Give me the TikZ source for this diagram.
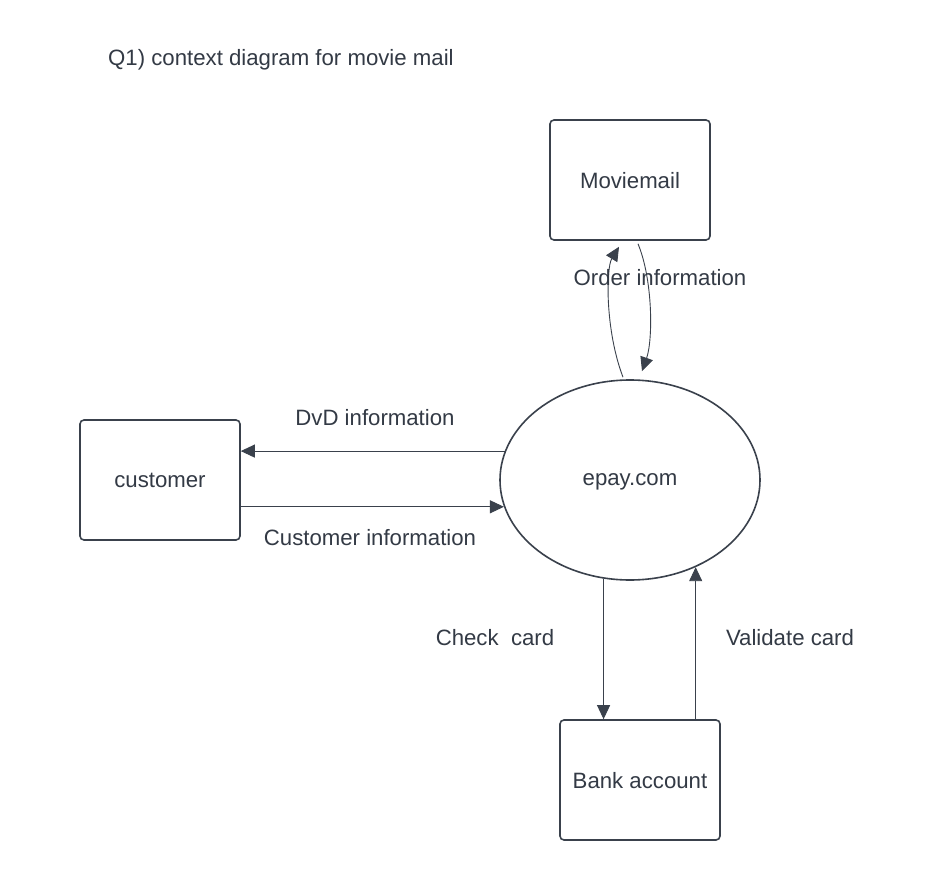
\documentclass[tikz,border=0pt]{standalone}
\usepackage{fontspec}
\setmainfont{Liberation Sans}
\usepackage{tikz}
\usetikzlibrary{arrows.meta,positioning,calc,shapes.geometric}
\definecolor{cInk} {HTML}{333A45}
\definecolor{cLine}{HTML}{3A414C}
\tikzset{
  ent/.style  ={draw=cLine,fill=white,rounded corners=4pt,line width=1.6pt,
                minimum width=160pt,minimum height=120pt,inner sep=0pt,text=cInk,
                text depth=0pt},
  proc/.style ={ellipse,draw=cLine,fill=white,line width=1.6pt,
                minimum width=260pt,minimum height=200pt,inner sep=0pt,text=cInk,
                text depth=0pt},
  lbl/.style  ={inner sep=0pt,text=cInk,text depth=0pt},
  flow/.style ={-{Triangle[length=14pt,width=13pt]},draw=cLine,line width=0.9pt},
}

\begin{document}
\begin{tikzpicture}[font=\fontsize{22.2}{27}\selectfont, x=1pt, y=-1pt]
\useasboundingbox[fill=white] (0,0) rectangle (940,880);

% ===== title ===============================================================
\node[lbl,anchor=west] (title) at (108,57) {Q1) context diagram for movie mail};

% ===== entities and process ================================================
\node[ent]  (movie)    at (630,180) {Moviemail};
\node[ent]  (customer) at (160,480) {customer};
\node[ent]  (bank)     at (640,780) {Bank account};
\node[proc] (epay)     at (630,480) {epay.com};

% ===== flows ===============================================================
\draw[flow] (epay.167) -- (epay.167 -| customer.east);
\draw[flow] (epay.192 -| customer.east) -- (epay.192);
\node[lbl] (dvdlbl)  at (375,417) {DvD information};
\node[lbl] (custlbl) at (370,537) {Customer information};

\draw[flow] (epay.255) -- (epay.255 |- bank.north);
\draw[flow] (epay.307 |- bank.north) -- (epay.307);
\node[lbl] (checklbl) at (495,637) {Check\ \ card};
\node[lbl] (validlbl) at (790,637) {Validate card};

% order loop between epay and Moviemail
\draw[flow] ($(epay.north)+(-7,-2)$) .. controls (605,330) and (606,268) .. ($(movie.south)+(-11,6)$);
\draw[flow] ($(movie.south)+(8,3)$) .. controls (653,280) and (653,340) .. ($(epay.north)+(12,-8)$);
\node[lbl] (orderlbl) at (660,277) {Order information};
\end{tikzpicture}
\end{document}
